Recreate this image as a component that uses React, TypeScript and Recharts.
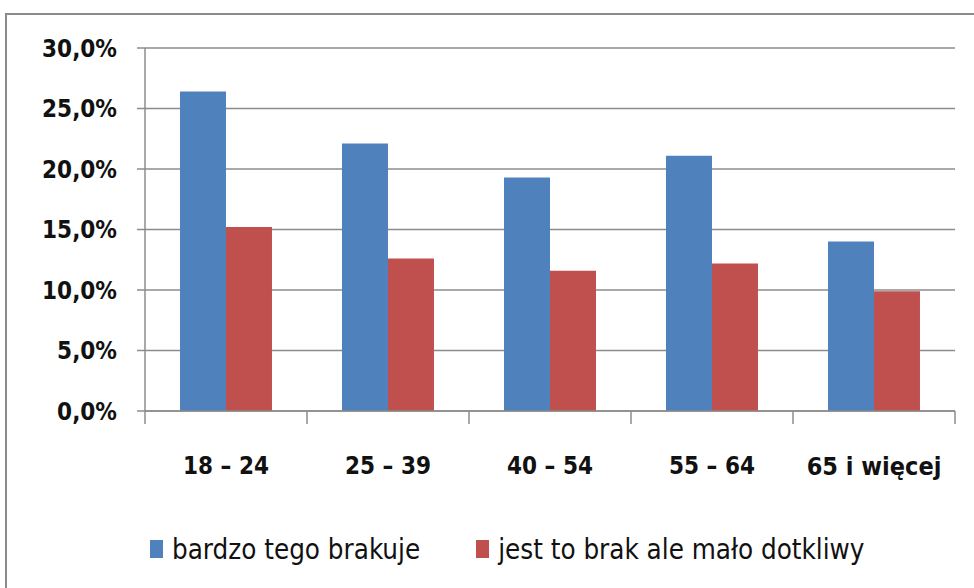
import { Bar, BarChart, CartesianGrid, Legend, XAxis, YAxis } from "recharts"

const categories = ["18 – 24", "25 – 39", "40 – 54", "55 – 64", "65 i więcej"]
const bardzoBrakuje = [26.4, 22.1, 19.3, 21.1, 14.0]
const maloDotkliwy = [15.2, 12.6, 11.6, 12.2, 9.9]
const yTicks = [0, 5, 10, 15, 20, 25, 30]
const seriesNames = ["bardzo tego brakuje", "jest to brak ale mało dotkliwy"]

const data = categories.map((name, i) => ({
    name,
    a: bardzoBrakuje[i],
    b: maloDotkliwy[i],
}))

const FONT = "'Liberation Sans Narrow', 'DejaVu Sans Condensed', sans-serif"
const GRID = "#8c8c8c"
const BLUE = "#4F81BD"
const RED = "#C0504D"

const W = 974
const H = 588
const M = { top: 48, right: 19, left: 0, bottom: 100 }
const Y_W = 145
const BAND = (W - M.right - Y_W) / categories.length

const XTick = (props: any) => {
    const { x, y, payload, index } = props
    const last = index === categories.length - 1
    return (
        <g>
            <line x1={x - BAND / 2} x2={x - BAND / 2} y1={y} y2={y + 13} stroke={GRID} strokeWidth={1.5} />
            {last && <line x1={x + BAND / 2} x2={x + BAND / 2} y1={y} y2={y + 13} stroke={GRID} strokeWidth={1.5} />}
            <text
                x={x}
                y={y + 55}
                textAnchor="middle"
                dominantBaseline="central"
                fill="#111"
                fontSize={last ? 25 : 24}
                fontWeight="bold"
                fontFamily={FONT}
            >
                {payload.value}
            </text>
        </g>
    )
}

const renderLegend = () => (
    <div style={{ display: "flex", fontFamily: FONT, fontSize: 27.5, color: "#111" }}>
        {seriesNames.map((n, i) => (
            <div key={n} style={{ display: "flex", alignItems: "center", marginLeft: i === 0 ? 150 : 56 }}>
                <span style={{ display: "inline-block", width: 13, height: 18, background: i === 0 ? BLUE : RED, marginRight: 9 }} />
                <span>{n}</span>
            </div>
        ))}
    </div>
)

export default function App() {
    return (
        <div style={{ position: "absolute", left: 0, top: 0, width: W, height: H, overflow: "hidden", background: "#fff" }}>
            <div
                style={{
                    position: "absolute",
                    left: 5,
                    top: 13,
                    width: 1100,
                    height: 700,
                    border: "2px solid #8a8a8a",
                    boxSizing: "border-box",
                }}
            />
            <div style={{ position: "absolute", left: 0, top: 0 }}>
                <BarChart width={W} height={H} data={data} margin={M} barCategoryGap="21.6%" barGap={0}>
                    <CartesianGrid vertical={false} stroke={GRID} strokeWidth={1.5} />
                    <XAxis
                        dataKey="name"
                        height={77}
                        axisLine={{ stroke: GRID, strokeWidth: 1.5 }}
                        tickLine={false}
                        tickSize={0}
                        tickMargin={0}
                        tick={<XTick />}
                        interval={0}
                    />
                    <YAxis
                        width={Y_W}
                        domain={[0, 30]}
                        ticks={yTicks}
                        interval={0}
                        axisLine={{ stroke: GRID, strokeWidth: 1.5 }}
                        tickLine={{ stroke: GRID, strokeWidth: 1.5 }}
                        tickSize={8}
                        tickMargin={20}
                        tickFormatter={(v: number) => v.toFixed(1).replace(".", ",") + "%"}
                        tick={{ fill: "#111", fontSize: 24, fontWeight: "bold", fontFamily: FONT }}
                    />
                    <Legend
                        layout="horizontal"
                        verticalAlign="middle"
                        align="center"
                        wrapperStyle={{ top: 533, left: 0, width: W }}
                        content={renderLegend}
                    />
                    <Bar dataKey="a" name={seriesNames[0]} fill={BLUE} isAnimationActive={false} />
                    <Bar dataKey="b" name={seriesNames[1]} fill={RED} isAnimationActive={false} />
                </BarChart>
            </div>
        </div>
    )
}
